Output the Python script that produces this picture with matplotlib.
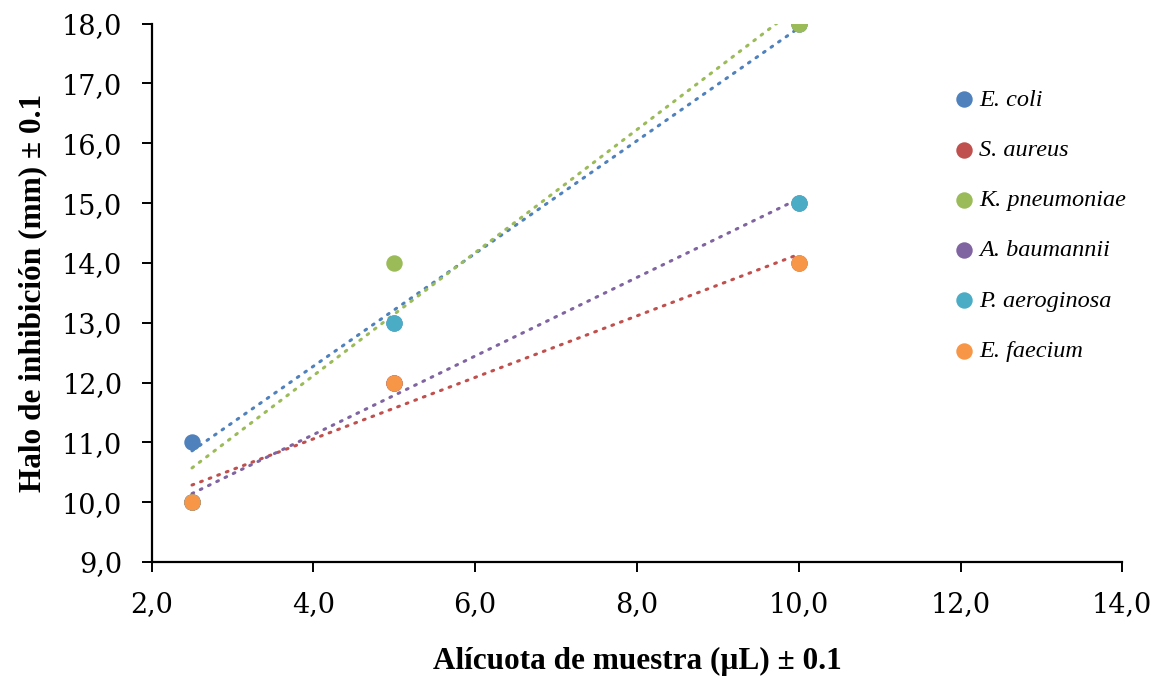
import numpy as np
import matplotlib
matplotlib.use("Agg")
import matplotlib.pyplot as plt
import matplotlib.ticker as ticker

# aliquot volumes (uL)
alicuota = [2.5, 5.0, 10.0]

species = ["E. coli", "S. aureus", "K. pneumoniae", "A. baumannii", "P. aeroginosa", "E. faecium"]
e_coli = [11.0, 13.0, 18.0]
s_aureus = [10.0, 12.0, 14.0]
k_pneumoniae = [10.0, 14.0, 18.0]
a_baumannii = [10.0, 12.0, 15.0]
p_aeroginosa = [10.0, 13.0, 15.0]
e_faecium = [10.0, 12.0, 14.0]

halos = [e_coli, s_aureus, k_pneumoniae, a_baumannii, p_aeroginosa, e_faecium]
colors = ["#4F81BD", "#C0504D", "#9BBB59", "#8064A2", "#4BACC6", "#F79646"]
# trendlines shown in the original chart
with_trend = [True, True, True, True, False, False]

fig = plt.figure(figsize=(11.57, 6.77), dpi=100)
ax = fig.add_axes([0.131, 0.170, 0.839, 0.795])

xs = np.array([2.5, 10.0])
for name, y, c, tr in zip(species, halos, colors, with_trend):
    if tr:
        m, b = np.polyfit(alicuota, y, 1)
        ax.plot(xs, m * xs + b, color=c, lw=2.2, linestyle=(0, (0.6, 2.4)),
                dash_capstyle="round", zorder=2)

for name, y, c in zip(species, halos, colors):
    ax.scatter(alicuota, y, s=140, color=c, label=name, zorder=3, linewidths=0)

ax.set_xlim(2, 14)
ax.set_ylim(9, 18)
ax.xaxis.set_major_locator(ticker.MultipleLocator(2))
ax.yaxis.set_major_locator(ticker.MultipleLocator(1))
fmt = ticker.FuncFormatter(lambda v, p: f"{v:.1f}".replace(".", ","))
ax.xaxis.set_major_formatter(fmt)
ax.yaxis.set_major_formatter(fmt)

for s in ["top", "right"]:
    ax.spines[s].set_visible(False)
for s in ["left", "bottom"]:
    ax.spines[s].set_linewidth(1.6)
    ax.spines[s].set_color("black")
ax.tick_params(direction="out", length=7, width=1.4, labelsize=19.5, pad=14)
for lab in ax.get_xticklabels() + ax.get_yticklabels():
    lab.set_family("DejaVu Serif")

ax.set_xlabel("Alícuota de muestra (µL) ± 0.1", family="Liberation Serif",
              fontweight="bold", fontsize=22.5, labelpad=21)
ax.set_ylabel("Halo de inhibición (mm) ± 0.1", family="Liberation Serif",
              fontweight="bold", fontsize=22.5, labelpad=11)

leg = ax.legend(loc="upper left", bbox_to_anchor=(0.814, 0.897), frameon=False,
                handlelength=1.0, handletextpad=0.15, labelspacing=1.16,
                borderaxespad=0,
                prop={"family": "Liberation Serif", "style": "italic", "size": 17.5})

fig.savefig("out.png", dpi=100)
